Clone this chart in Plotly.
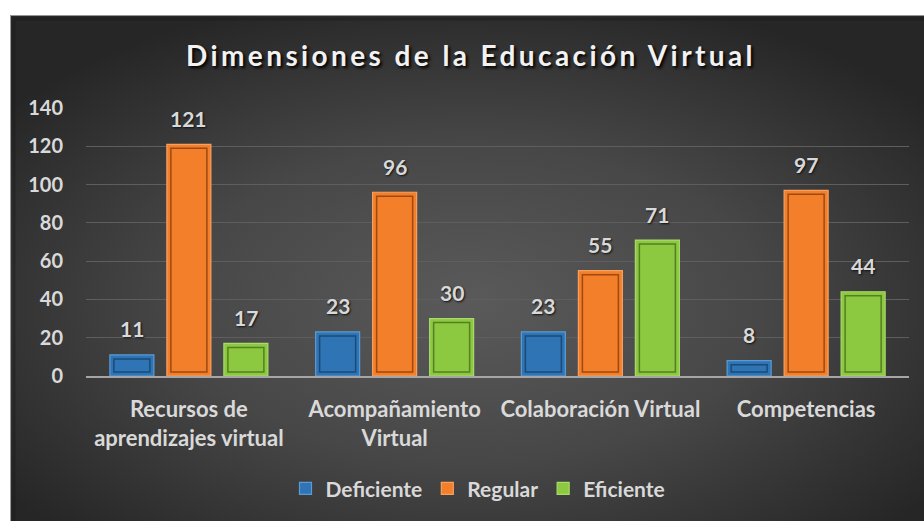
import plotly.graph_objects as go
import base64

categories = ["Recursos de<br>aprendizajes virtual", "Acompañamiento<br>Virtual",
              "Colaboración Virtual", "Competencias"]
deficiente = [11, 23, 23, 8]
regular = [121, 96, 55, 97]
eficiente = [17, 30, 71, 44]
series_names = ["Deficiente", "Regular", "Eficiente"]
y_ticks = [0, 20, 40, 60, 80, 100, 120, 140]

FONT = "Lato"
LABEL = "#D9D9D9"
colors = ["#2F75B5", "#F37F2A", "#8CC940"]
rims = ["#5B9BD5", "#F8A060", "#A9DA6A"]
inner_lines = ["#1B4A78", "#9C4A12", "#547F22"]

# layout geometry (pixels)
W, H = 924, 521
L, R, T, B = 86, 15, 108, 142
pw, ph = W - L - R, H - T - B
YMAX = 140
cat_px = pw / len(categories)
slot = 57 / cat_px          # spacing between bars of a group, in category units
bw = 44 / cat_px            # bar width, in category units
inset_x = 4 / cat_px
inset_y = 4 * YMAX / ph     # 4px in data units
offsets = [-slot, 0, slot]

fig = go.Figure()
series = [deficiente, regular, eficiente]
for name, vals, c, rim, il, off in zip(series_names, series, colors, rims, inner_lines, offsets):
    fig.add_trace(go.Bar(
        x=categories, y=vals, name=name, width=bw, offset=off - bw / 2,
        marker=dict(color=c, line=dict(color=rim, width=1.2)),
        hoverinfo="name+y",
    ))
    fig.add_trace(go.Bar(
        x=categories, y=[max(v - 2 * inset_y, 0.5) for v in vals], base=inset_y,
        width=bw - 2 * inset_x, offset=off - bw / 2 + inset_x, showlegend=False,
        marker=dict(color=c, line=dict(color=il, width=1.5)), hoverinfo="skip",
    ))
    for i, v in enumerate(vals):
        fig.add_annotation(x=i + off, y=v, xref="x", yref="y", text=str(v),
                           showarrow=False, yanchor="middle", yshift=26,
                           font=dict(family=FONT, size=21, color=LABEL, weight="bold",
                                     shadow="1px 1px 2px #111"))

BW_, BH_ = 940, 520
svg = (f'<svg xmlns="http://www.w3.org/2000/svg" width="{BW_}" height="{BH_}" viewBox="0 0 {BW_} {BH_}" '
       'preserveAspectRatio="none"><defs><radialGradient id="g" cx="49%" cy="56%" r="62%">'
       '<stop offset="0" stop-color="#5a5a5a"/><stop offset="0.5" stop-color="#474747"/>'
       '<stop offset="1" stop-color="#262626"/></radialGradient></defs>'
       f'<rect width="{BW_}" height="{BH_}" fill="url(#g)"/>'
       f'<rect x="4" y="4" width="{BW_ + 10}" height="{BH_ + 10}" fill="none" stroke="#1c1c1c" stroke-width="3" opacity="0.5"/>'
       f'<rect x="0.5" y="0.5" width="{BW_ + 10}" height="{BH_ + 10}" fill="none" stroke="#9a9a9a" stroke-width="1"/></svg>')
src = "data:image/svg+xml;base64," + base64.b64encode(svg.encode()).decode()

fig.add_layout_image(dict(
    source=src, xref="paper", yref="paper",
    x=(10 - L) / pw, y=(H - B - 14) / ph,
    sizex=BW_ / pw, sizey=BH_ / ph,
    xanchor="left", yanchor="top", sizing="stretch", layer="below",
))
# white page margin above and left of the chart area
fig.add_shape(type="rect", xref="paper", yref="paper", layer="below",
              x0=-(L + 20) / pw, x1=(W + 20 - L) / pw, y0=(H - B - 14) / ph, y1=(H - B + 20) / ph,
              fillcolor="white", line_width=0)
fig.add_shape(type="rect", xref="paper", yref="paper", layer="below",
              x0=-(L + 20) / pw, x1=(10 - L) / pw, y0=-(B + 20) / ph, y1=(H - B + 20) / ph,
              fillcolor="white", line_width=0)

fig.update_layout(
    width=W, height=H,
    margin=dict(l=L, r=R, t=T, b=B),
    paper_bgcolor="#262626", plot_bgcolor="rgba(0,0,0,0)",
    barmode="overlay",
    title=dict(text="Dimensiones de la Educación Virtual", x=(471 - L) / pw, xref="paper",
               xanchor="center", y=1 - 56 / H, yanchor="middle",
               font=dict(family=FONT, size=28, color="#F2F2F2", weight="bold",
                         shadow="2px 2px 3px #000")),
    font=dict(family=FONT, color=LABEL),
    showlegend=True,
    legend=dict(orientation="h", x=(478 - L) / pw, xanchor="center",
                y=-(493 - (H - B)) / ph, yanchor="middle", bgcolor="rgba(0,0,0,0)",
                font=dict(family=FONT, size=21, color=LABEL, weight="bold"),
                itemwidth=30, traceorder="normal"),
    yaxis=dict(range=[0, YMAX], tickvals=y_ticks, showgrid=True, gridcolor="#5E5E5E",
               gridwidth=1, zeroline=False, showline=False, ticks="",
               tickfont=dict(family=FONT, size=20, color=LABEL, weight="bold"),
               ticklabelstandoff=22),
    xaxis=dict(showline=True, linecolor="#A6A6A6", linewidth=2, ticks="",
               range=[-0.5, len(categories) - 0.5],
               tickfont=dict(family=FONT, size=22, color=LABEL, weight="bold"),
               ticklabelstandoff=13),
)

post = """
document.body.style.margin = '0';
document.body.style.overflow = 'hidden';
var t = document.querySelector('.gtitle');
if (t) { t.style.letterSpacing = '3.4px'; }
"""
fig.write_html("out.html", post_script=post, config={"displayModeBar": False})
